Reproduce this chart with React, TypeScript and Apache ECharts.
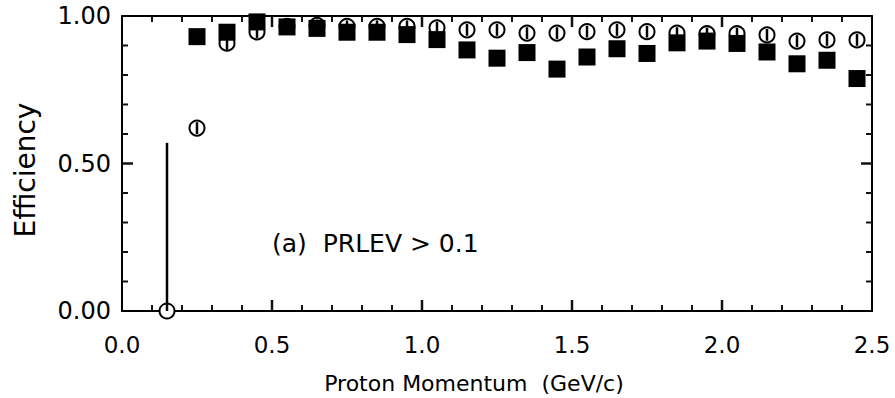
import React, { useEffect, useRef } from "react";
import * as echarts from "echarts";

const squareX = [0.25, 0.35, 0.45, 0.55, 0.65, 0.75, 0.85, 0.95, 1.05, 1.15, 1.25, 1.35, 1.45, 1.55, 1.65, 1.75, 1.85, 1.95, 2.05, 2.15, 2.25, 2.35, 2.45];
const squareY = [0.93, 0.945, 0.98, 0.963, 0.958, 0.945, 0.945, 0.937, 0.92, 0.885, 0.857, 0.876, 0.82, 0.861, 0.889, 0.873, 0.909, 0.915, 0.907, 0.878, 0.838, 0.85, 0.788];
const circleX = [0.15, 0.25, 0.35, 0.45, 0.55, 0.65, 0.75, 0.85, 0.95, 1.05, 1.15, 1.25, 1.35, 1.45, 1.55, 1.65, 1.75, 1.85, 1.95, 2.05, 2.15, 2.25, 2.35, 2.45];
const circleY = [0.0, 0.62, 0.908, 0.946, 0.965, 0.968, 0.965, 0.965, 0.965, 0.96, 0.953, 0.953, 0.942, 0.942, 0.947, 0.953, 0.947, 0.942, 0.94, 0.94, 0.936, 0.915, 0.919, 0.919];
const circleErrLow = [0.0, 0.6, 0.885, 0.925, 0.945, 0.948, 0.945, 0.945, 0.945, 0.94, 0.933, 0.933, 0.922, 0.922, 0.927, 0.933, 0.927, 0.922, 0.92, 0.92, 0.916, 0.895, 0.899, 0.899];
const circleErrHigh = [0.57, 0.64, 0.93, 0.967, 0.985, 0.988, 0.985, 0.985, 0.985, 0.98, 0.973, 0.973, 0.962, 0.962, 0.967, 0.973, 0.967, 0.962, 0.96, 0.96, 0.956, 0.935, 0.939, 0.939];

// tick positions
const xMajorTicks = [0.5, 1.0, 1.5, 2.0];
const xMinorTicks = [0.1, 0.2, 0.3, 0.4, 0.6, 0.7, 0.8, 0.9, 1.1, 1.2, 1.3, 1.4, 1.6, 1.7, 1.8, 1.9, 2.1, 2.2, 2.3, 2.4];
const yMajorTicks = [0.5];
const yMinorTicks = [0.1, 0.2, 0.3, 0.4, 0.6, 0.7, 0.8, 0.9];

const FONT = "DejaVu Sans";
const MAJOR = 11;
const MINOR = 6;

export default function App() {
  const ref = useRef<HTMLDivElement>(null);
  useEffect(() => {
    if (!ref.current) return;
    const chart = echarts.init(ref.current, null, { renderer: "svg" });
    const axisCommon = {
      axisLine: { show: true, onZero: false, lineStyle: { color: "#000", width: 2 } },
      axisTick: { show: false },
      minorTick: { show: false },
      splitLine: { show: false },
      minorSplitLine: { show: false },
    };
    const squares = squareX.map((x, i) => [x, squareY[i]]);
    const circles = circleX.map((x, i) => [x, circleY[i]]);
    const errs = circleX.map((x, i) => [x, circleErrLow[i], circleErrHigh[i]]);

    const tickData: number[][] = [];
    xMajorTicks.forEach((v) => { tickData.push([v, 0, 0, -MAJOR, 2.5]); tickData.push([v, 1, 0, MAJOR, 2.5]); });
    xMinorTicks.forEach((v) => { tickData.push([v, 0, 0, -MINOR, 2]); tickData.push([v, 1, 0, MINOR, 2]); });
    yMajorTicks.forEach((v) => { tickData.push([0, v, MAJOR, 0, 2.5]); tickData.push([2.5, v, -MAJOR, 0, 2.5]); });
    yMinorTicks.forEach((v) => { tickData.push([0, v, MINOR, 0, 2]); tickData.push([2.5, v, -MINOR, 0, 2]); });

    chart.setOption({
      animation: false,
      backgroundColor: "#fff",
      grid: { left: 122, right: 23, top: 16, bottom: 87 },
      xAxis: [
        {
          type: "value", min: 0, max: 2.5, interval: 0.5, position: "bottom",
          ...axisCommon,
          axisLabel: { show: true, margin: 22, color: "#000", fontFamily: FONT, fontSize: 23, formatter: (v: number) => v.toFixed(1) },
        },
        {
          type: "value", min: 0, max: 2.5, interval: 0.5, position: "top",
          ...axisCommon,
          axisLabel: { show: false },
        },
      ],
      yAxis: [
        {
          type: "value", min: 0, max: 1, interval: 0.5, position: "left",
          ...axisCommon,
          axisLabel: { show: true, margin: 11, color: "#000", fontFamily: FONT, fontSize: 24, formatter: (v: number) => v.toFixed(2) },
        },
        {
          type: "value", min: 0, max: 1, interval: 0.5, position: "right",
          ...axisCommon,
          axisLabel: { show: false },
        },
      ],
      series: [
        {
          type: "custom", data: tickData, z: 5, clip: false,
          encode: { x: 0, y: 1 },
          renderItem: (params: any, api: any) => {
            const p = api.coord([api.value(0), api.value(1)]);
            return {
              type: "line",
              shape: { x1: p[0], y1: p[1], x2: p[0] + api.value(2), y2: p[1] + api.value(3) },
              style: { stroke: "#111111", lineWidth: api.value(4) },
            };
          },
        },
        {
          type: "scatter", data: circles, symbol: "circle", symbolSize: 15, z: 2,
          itemStyle: { color: "#fff", borderColor: "#000", borderWidth: 2, opacity: 1 },
          clip: false,
        },
        {
          type: "custom", data: errs, z: 3, clip: false,
          encode: { x: 0, y: [1, 2] },
          renderItem: (params: any, api: any) => {
            const x = api.value(0);
            const p1 = api.coord([x, api.value(1)]);
            const p2 = api.coord([x, api.value(2)]);
            return {
              type: "line",
              shape: { x1: p1[0], y1: p1[1], x2: p2[0], y2: p2[1] },
              style: { stroke: "#000", lineWidth: 2.5 },
            };
          },
        },
        {
          type: "scatter", data: squares, symbol: "rect", symbolSize: 17, z: 4,
          itemStyle: { color: "#000", opacity: 1 },
          clip: false,
        },
      ],
      graphic: [
        {
          type: "text", x: 272, y: 243,
          style: { text: "(a)  PRLEV > 0.1", fill: "#000", font: `25px "${FONT}"`, align: "left", verticalAlign: "middle" },
        },
        {
          type: "text", x: 474, y: 383,
          style: { text: "Proton Momentum  (GeV/c)", fill: "#000", font: `22px "${FONT}"`, align: "center", verticalAlign: "middle" },
        },
        {
          type: "text", x: 25, y: 170, rotation: Math.PI / 2,
          style: { text: "Efficiency", fill: "#000", font: `28px "${FONT}"`, align: "center", verticalAlign: "middle" },
        },
      ],
    });
    return () => chart.dispose();
  }, []);
  return <div ref={ref} style={{ width: 895, height: 398, position: "absolute", left: 0, top: 0 }} />;
}
